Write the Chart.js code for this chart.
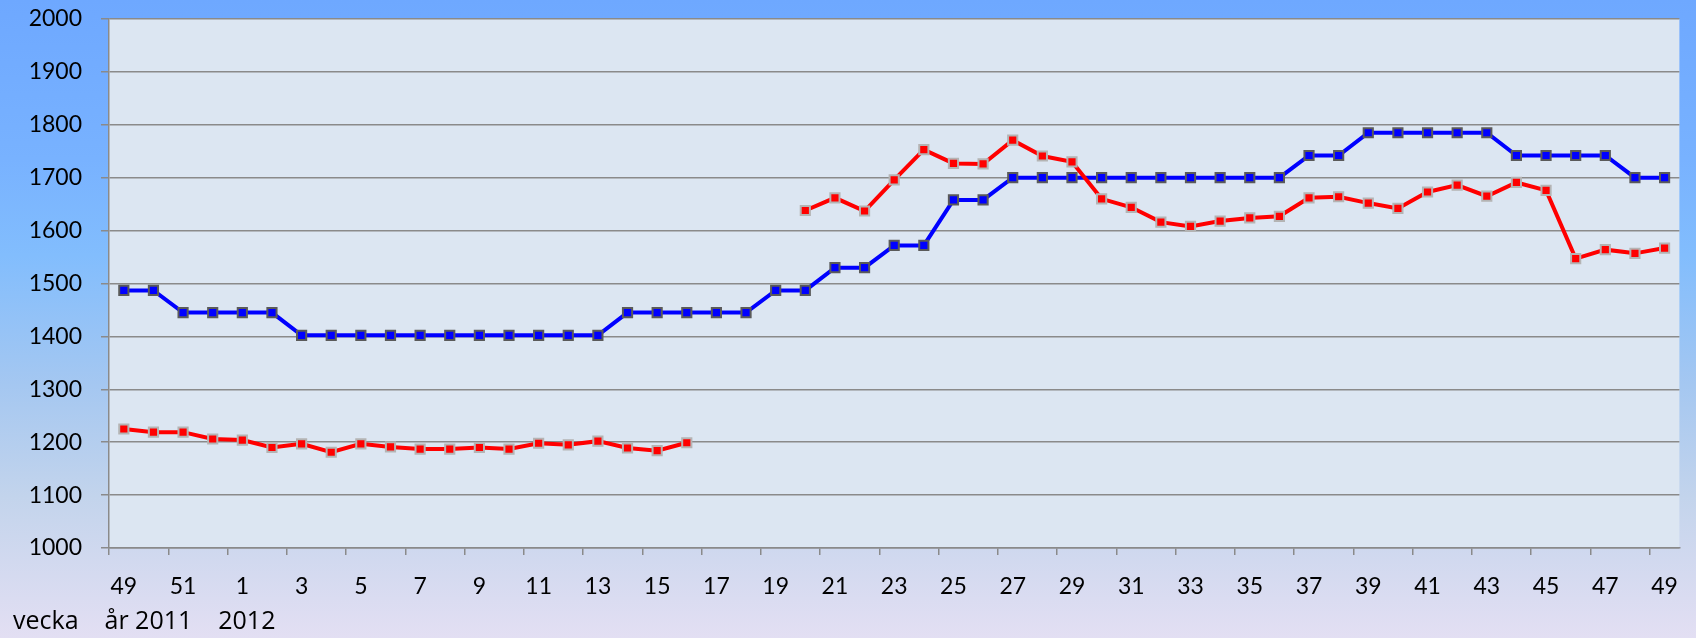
<!DOCTYPE html>
<html>
<head>
<meta charset="utf-8">
<script src="https://cdn.jsdelivr.net/npm/chart.js@4.4.1/dist/chart.umd.min.js"></script>
<style>
  html, body { margin: 0; padding: 0; }
  body {
    width: 1696px; height: 638px; overflow: hidden;
    background: linear-gradient(to bottom, #6ea8ff 0%, #78b2ff 25%, #82bdfd 40%, #a4c7f1 60%, #c3d4ec 78%, #e3dff3 100%);
  }
  #wrap { position: relative; width: 1696px; height: 638px; }
</style>
</head>
<body>
<div id="wrap"><canvas id="c" width="1696" height="638"></canvas></div>
<script>
// Week categories: 2011 weeks 49-52, then 2012 weeks 1-49
const weeks = ['49','50','51','52','1','2','3','4','5','6','7','8','9','10','11','12','13','14','15','16','17','18','19','20','21','22','23','24','25','26','27','28','29','30','31','32','33','34','35','36','37','38','39','40','41','42','43','44','45','46','47','48','49'];

const blueSeries = [1487,1487,1445,1445,1445,1445,1402,1402,1402,1402,1402,1402,1402,1402,1402,1402,1402,1445,1445,1445,1445,1445,1487,1487,1530,1530,1572,1572,1658,1658,1700,1700,1700,1700,1700,1700,1700,1700,1700,1700,1742,1742,1785,1785,1785,1785,1785,1742,1742,1742,1742,1700,1700];

const redSeries = [1225,1219,1219,1206,1204,1190,1197,1181,1197,1191,1187,1187,1190,1187,1198,1195,1202,1189,1184,1199,null,null,null,1638,1662,1637,1696,1753,1727,1726,1771,1741,1730,1660,1644,1616,1608,1618,1624,1627,1662,1664,1652,1642,1673,1686,1665,1691,1676,1547,1564,1557,1567];

const yTicks = {min: 1000, max: 2000, step: 100};
const axisTitle = 'vecka    år 2011    2012';

const FONT = 'Lato, "Open Sans", sans-serif';
const TITLE_FONT = '"Open Sans", Lato, sans-serif';

const plotBg = {
  id: 'plotBg',
  beforeDraw(chart) {
    const {ctx, chartArea: a} = chart;
    ctx.save();
    ctx.fillStyle = '#dce6f2';
    ctx.fillRect(a.left, a.top, a.right - a.left, a.bottom - a.top);
    ctx.restore();
  }
};

new Chart(document.getElementById('c'), {
  type: 'line',
  data: {
    labels: weeks,
    datasets: [
      {
        data: redSeries,
        borderColor: '#ff0000',
        borderWidth: 4,
        pointStyle: 'rect',
        pointRadius: 6.5,
        pointBackgroundColor: '#ff0000',
        pointBorderColor: '#b4b4b4',
        pointBorderWidth: 2,
        spanGaps: false,
        tension: 0
      },
      {
        data: blueSeries,
        borderColor: '#0000ff',
        borderWidth: 4,
        pointStyle: 'rect',
        pointRadius: 6.5,
        pointBackgroundColor: '#0000ff',
        pointBorderColor: '#5a5a5a',
        pointBorderWidth: 2,
        tension: 0
      }
    ]
  },
  options: {
    responsive: false,
    animation: false,
    devicePixelRatio: 1,
    layout: { padding: { left: 13, top: 19, right: 4, bottom: 0 } },
    plugins: {
      legend: { display: false },
      tooltip: { enabled: false },
      title: {
        display: true,
        position: 'bottom',
        align: 'start',
        text: axisTitle,
        color: '#000',
        font: { family: TITLE_FONT, size: 25, weight: 'normal', lineHeight: 1.0 },
        padding: { top: 11, bottom: 4 }
      }
    },
    scales: {
      x: {
        type: 'category',
        offset: true,
        grid: {
          offset: true,
          drawOnChartArea: false,
          drawTicks: true,
          tickLength: 7,
          lineWidth: 1.5,
          color: (ctx) => (ctx.index % 2 === 0 ? '#8a8a8a' : 'rgba(0,0,0,0)')
        },
        border: { color: '#8a8a8a', width: 1.5 },
        ticks: {
          autoSkip: false,
          maxRotation: 0,
          padding: 18,
          color: '#000',
          font: { family: FONT, size: 23 },
          callback: function (val, idx) { return idx % 2 === 0 ? this.getLabelForValue(val) : ''; }
        },
        afterFit(scale) { scale.height = 50; }
      },
      y: {
        min: yTicks.min,
        max: yTicks.max,
        grid: {
          color: '#8a8a8a',
          lineWidth: 1.5,
          drawTicks: true,
          tickLength: 8
        },
        border: { color: '#8a8a8a', width: 1.5 },
        ticks: {
          stepSize: yTicks.step,
          padding: 19,
          color: '#000',
          font: { family: FONT, size: 23 },
          callback: (v) => String(v)
        },
        afterFit(scale) {
          scale.width = 96;
          scale.paddingTop = 0;
          scale.paddingBottom = 0;
        }
      }
    }
  },
  plugins: [plotBg]
});
</script>
</body>
</html>
